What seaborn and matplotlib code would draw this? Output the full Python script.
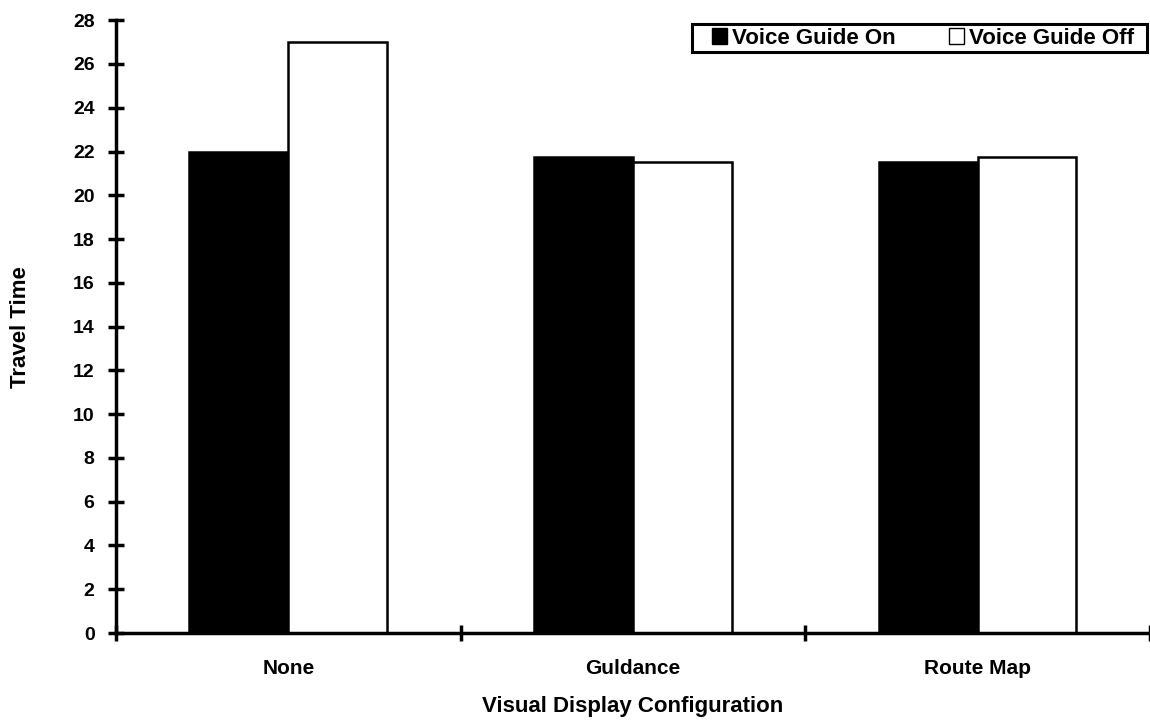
import matplotlib
matplotlib.use("Agg")
import matplotlib.pyplot as plt
import seaborn as sns
import pandas as pd
from matplotlib.patches import Patch, Rectangle

categories = ["None", "Guldance", "Route Map"]
series_names = ["Voice Guide On", "Voice Guide Off"]
voice_on = [22.0, 21.75, 21.5]
voice_off = [27.0, 21.5, 21.75]
y_ticks = list(range(0, 29, 2))

df = pd.DataFrame({
    "config": categories * 2,
    "series": [series_names[0]] * 3 + [series_names[1]] * 3,
    "value": voice_on + voice_off,
})

sns.set_theme(style="white")
plt.rcParams["font.family"] = ["Liberation Sans", "DejaVu Sans"]
plt.rcParams["font.weight"] = "bold"
plt.rcParams["text.color"] = "black"
plt.rcParams["axes.labelcolor"] = "black"
plt.rcParams["xtick.color"] = "black"
plt.rcParams["ytick.color"] = "black"

fig = plt.figure(figsize=(11.5, 7.21), dpi=100)
ax = fig.add_axes([0.1009, 0.122, 0.899, 0.850])

sns.barplot(data=df, x="config", y="value", hue="series",
            palette={series_names[0]: "black", series_names[1]: "white"},
            edgecolor="black", linewidth=1.8, width=0.574, ax=ax,
            legend=False, errorbar=None)

ax.set_xlim(-0.5, 2.5)
ax.set_ylim(0, 28)
ax.set_yticks(y_ticks)
ax.set_yticklabels([str(t) for t in y_ticks], fontsize=14, fontweight="bold")
ax.set_xticks([0, 1, 2])
ax.set_xticklabels(categories, fontsize=15, fontweight="bold")
ax.set_xticks([-0.5, 0.5, 1.5, 2.5], minor=True)
ax.tick_params(axis="x", which="major", bottom=True, length=0, pad=19)
ax.tick_params(axis="x", which="minor", bottom=True, direction="inout", length=12, width=2.5, color="black")
ax.tick_params(axis="y", which="major", left=True, direction="inout", length=11, width=2.5, color="black", pad=10)

for s in ["top", "right"]:
    ax.spines[s].set_visible(False)
for s in ["left", "bottom"]:
    ax.spines[s].set_color("black")
    ax.spines[s].set_linewidth(2.5)

ax.set_xlabel("Visual Display Configuration", fontsize=16, fontweight="bold", labelpad=13)
ax.set_ylabel("Travel Time", fontsize=16, fontweight="bold", labelpad=30)

# legend frame
ax.add_patch(Rectangle((0.557, 0.948), 0.440, 0.0455, transform=ax.transAxes,
                       facecolor="white", edgecolor="black", linewidth=2.2,
                       clip_on=False, zorder=5))
handles = [Patch(facecolor="black", edgecolor="black", label=series_names[0]),
           Patch(facecolor="white", edgecolor="black", label=series_names[1])]
leg = ax.legend(handles=handles, ncol=2, loc="center", bbox_to_anchor=(0.7805, 0.9706),
                frameon=False, borderpad=0.0,
                handlelength=0.68, handleheight=0.68, handletextpad=0.22, columnspacing=2.4,
                prop={"size": 16, "weight": "bold"})
leg.set_zorder(6)

fig.savefig("out.png", dpi=100)
